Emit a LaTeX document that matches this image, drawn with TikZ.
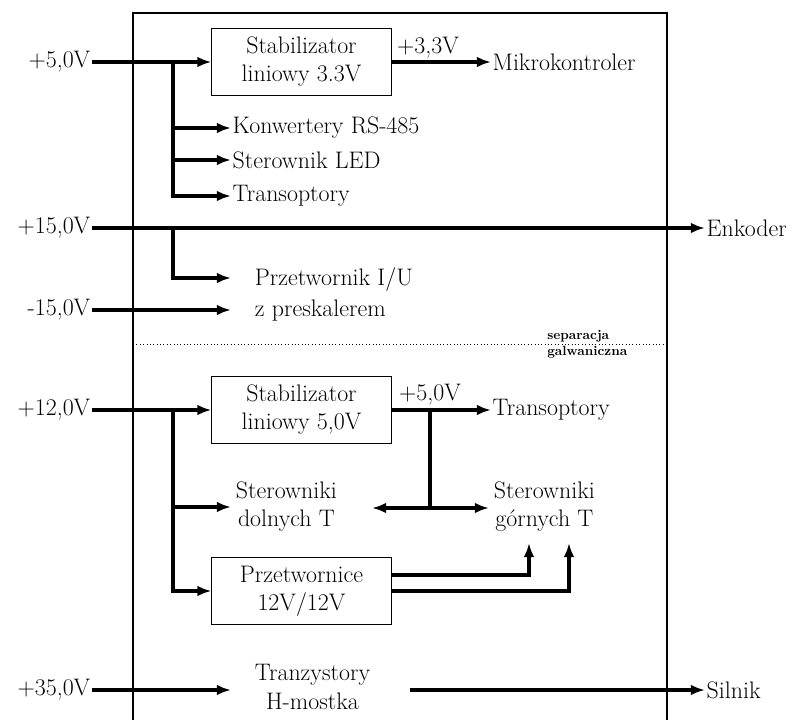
\documentclass[tikz,border=0pt]{standalone}
\usetikzlibrary{positioning,arrows.meta}
\tikzset{%
  every block/.style={
    draw,
    line width=0.7pt,
    minimum width=4.475cm,
    minimum height=1.65cm,
    align=center
  },
  wire label/.style={
    inner sep=1pt
  },
}

\begin{document}
\begin{tikzpicture}[x=0.025cm,y=-0.025cm,>={Latex[length=10pt,width=7.5pt]},font=\fontsize{17}{20}\selectfont]
      \tikzstyle{pw}=[line width=2.3pt]
      \tikzstyle{txt}=[inner sep=1pt]

      \useasboundingbox (0,0) rectangle (803,720);
      % obudowa
      \draw[line width=0.9pt] (133,720) -- (133,13) -- (667,13) -- (667,720);
      \draw[dotted] (133,344) -- (667,344);
      \node[anchor=west,inner sep=0pt,align=left,font=\fontsize{9.5}{11.5}\selectfont\bfseries] (sep) at (547,344) {separacja\\galwaniczna};

      % zasilania
      \node[txt,anchor=east] (v5) at (92,62) {+5,0V};
      \node[txt,anchor=east] (v15) at (92,228) {+15,0V};
      \node[txt,anchor=east] (vm15) at (92,310) {-15,0V};
      \node[txt,anchor=east] (v12) at (92,410) {+12,0V};
      \node[txt,anchor=east] (v35) at (92,690) {+35,0V};

      % bloki
      \node[every block] (stab33) at (301.5,62) {Stabilizator\\liniowy 3.3V};
      \node[every block] (stab50) at (301.5,410) {Stabilizator\\liniowy 5,0V};
      \node[every block] (przetw) at (301.5,591) {Przetwornice\\12V/12V};

      \node[txt,anchor=west] (mikro) at (491,62) {Mikrokontroler};
      \node[txt,anchor=west] (konw) at (231,128) {Konwertery RS-485};
      \node[txt,anchor=west] (led) at (231,160) {Sterownik LED};
      \node[txt,anchor=west] (trans1) at (231,196) {Transoptory};
      \node[txt,anchor=west] (enk) at (705,228) {Enkoder};
      \node[align=left,anchor=west] (iu) at (250,294) {Przetwornik I/U\\[2pt]z preskalerem};
      \node[txt,anchor=west] (trans2) at (491,410) {Transoptory};
      \node[align=center,anchor=west] (dolne) at (231,507) {Sterowniki\\dolnych T};
      \node[align=center,anchor=west] (gorne) at (489,507) {Sterowniki\\górnych T};
      \node[align=center,anchor=west] (hmost) at (250,687) {Tranzystory\\H-mostka};
      \node[txt,anchor=west] (silnik) at (705,690) {Silnik};

      \node (u33) at (428,48) {+3,3V};
      \node (u50) at (430,395) {+5,0V};

      \coordinate (j5) at (173,62);
      \coordinate (j15) at (173,228);
      \coordinate (iu1) at (231,278);
      \coordinate (iu2) at (231,310);
      \coordinate (j12) at (173,410);
      \coordinate (j50) at (430,410);
      \coordinate (jd) at (430,508);
      \coordinate (dl) at (372,508);
      \coordinate (g1) at (529,543);
      \coordinate (g2) at (569,543);
      \coordinate (hm1) at (231,690);
      \coordinate (hm2) at (410,690);

      \draw[pw,->] (v5) -- (stab33);
      \draw[pw,->] (stab33) -- (mikro);
      \draw[pw,->] (j5) |- (konw.west);
      \draw[pw,->] (j5) |- (led.west);
      \draw[pw,->] (j5) |- (trans1.west);

      \draw[pw,->] (v15) -- (enk);
      \draw[pw,->] (j15) |- (iu1);
      \draw[pw,->] (vm15) -- (iu2);

      \draw[pw,->] (v12) -- (stab50);
      \draw[pw,->] (stab50) -- (trans2);
      \draw[pw,->] (j12) |- (dolne.west);
      \draw[pw,->] (j12) |- (przetw.west);
      \draw[pw] (j50) -- (jd);
      \draw[pw,<->] (dl) -- (dl -| gorne.west);
      \draw[pw,->] ([yshift=0.4cm]przetw.east) -| (g1);
      \draw[pw,->] (przetw.east) -| (g2);

      \draw[pw,->] (v35) -- (hm1);
      \draw[pw,->] (hm2) -- (silnik);
  \end{tikzpicture}
\end{document}
